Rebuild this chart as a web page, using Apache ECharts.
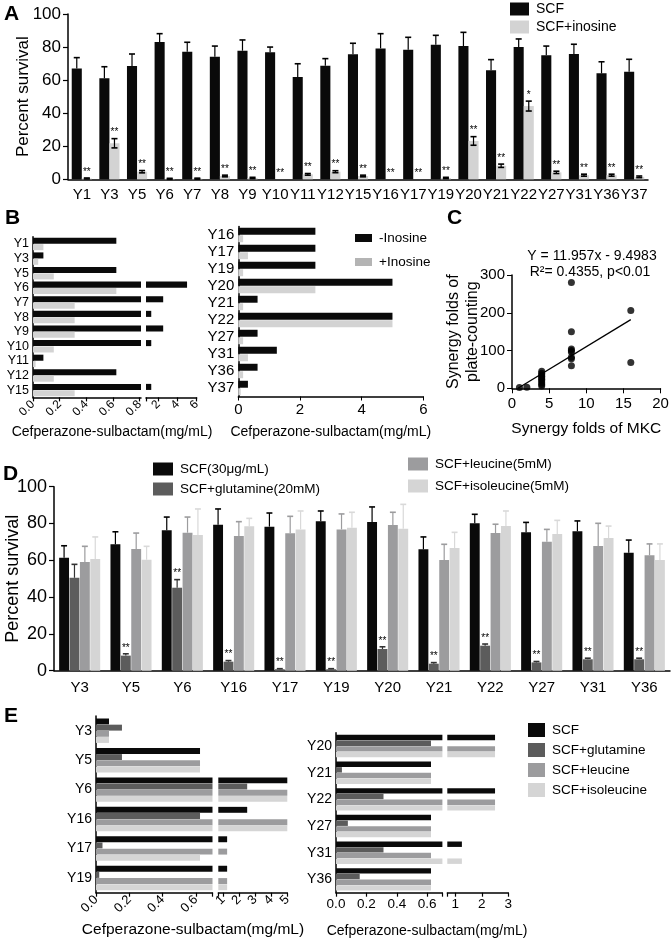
<!DOCTYPE html>
<html><head><meta charset="utf-8">
<script src="https://cdn.jsdelivr.net/npm/echarts@6/dist/echarts.min.js"></script>
<style>html,body{margin:0;padding:0;background:#fff}#c{width:671px;height:944px}</style>
</head><body><div id="c"></div>
<script>
// ---------- Panel A ----------
const catsA = ['Y1','Y3','Y5','Y6','Y7','Y8','Y9','Y10','Y11','Y12','Y15','Y16','Y17','Y19','Y20','Y21','Y22','Y27','Y31','Y36','Y37'];
const scfA = [67.1,61.1,68.5,83.1,77.2,74.2,77.8,76.8,61.9,68.7,75.6,79.2,78.4,81.4,80.6,65.9,80.0,75.0,75.8,64.1,65.1];
const scfErrA = [6.5,7.0,7.3,5.0,5.7,6.4,6.5,3.2,8.0,4.3,6.7,8.9,7.5,5.7,8.3,6.5,4.9,5.6,5.9,7.0,7.5];
const inoA = [0.5,21.8,4.6,0.3,0.4,2.0,0.8,0,3.0,4.6,2.0,0,0,0.8,23.2,8.2,44.3,4.2,2.5,2.5,1.5];
const inoErrA = [0.3,2.8,0.7,0.3,0.3,0.5,0.4,0,0.5,0.6,0.5,0,0,0.4,2.6,1.0,3.0,0.7,0.6,0.6,0.5];
const sigA = ['**','**','**','**','**','**','**','**','**','**','**','**','**','**','**','**','*','**','**','**','**'];

// ---------- Panel B ----------
const catsB1 = ['Y1','Y3','Y5','Y6','Y7','Y8','Y9','Y10','Y11','Y12','Y15'];
const minusInoB1 = [0.625,0.078,0.625,5,2.5,1.25,2.5,1.25,0.078,0.625,1.25];
const plusInoB1 = [0.078,0.039,0.156,0.625,0.3125,0.3125,0.3125,0.156,0.0195,0.156,0.3125];
const catsB2 = ['Y16','Y17','Y19','Y20','Y21','Y22','Y27','Y31','Y36','Y37'];
const minusInoB2 = [2.5,2.5,2.5,5,0.625,5,0.625,1.25,0.625,0.3125];
const plusInoB2 = [0.156,0.3125,0.156,2.5,0.156,5,0.156,0.3125,0.156,0.078];

// ---------- Panel C ----------
const mkcFolds = [1,2,4,4,4,4,4,4,4,4,4,4,8,8,8,8,8,8,8,8,16,16];
const plateFolds = [2,3,45,40,36,32,28,24,20,15,10,6,280,150,104,100,96,82,78,60,206,68];
const fitLine = [[0.8,0],[16,181.8]];

// ---------- Panel D ----------
const catsD = ['Y3','Y5','Y6','Y16','Y17','Y19','Y20','Y21','Y22','Y27','Y31','Y36'];
const scfD = [61.4,68.7,76.3,79.3,78.3,81.2,80.8,66.0,80.1,75.2,75.8,64.1];
const scfErrD = [6.5,6.8,7.2,8.6,7.4,5.6,8.2,6.7,4.9,5.4,5.6,6.9];
const glnD = [50.5,8.2,45.1,4.9,0.8,0.8,11.8,3.8,13.6,4.5,6.2,6.2];
const glnErrD = [7.3,1.0,4.4,0.6,0.3,0.3,1.2,0.6,0.9,0.5,0.6,0.6];
const leuD = [59.1,66.1,75.0,73.2,74.7,76.8,79.2,60.2,74.8,70.1,67.8,62.7];
const leuErrD = [8.5,8.7,8.5,7.8,9.2,8.4,6.9,8.5,4.8,6.7,12.3,6.2];
const ileD = [60.7,60.3,73.7,78.5,76.8,77.7,77.2,66.7,78.6,74.3,72.1,60.2];
const ileErrD = [12.0,7.3,14.2,4.3,10.0,8.4,13.2,8.5,8.2,7.4,6.5,8.7];
const sigD = ['','**','**','**','**','**','**','**','**','**','**','**'];

// ---------- Panel E ----------
const catsE1 = ['Y3','Y5','Y6','Y16','Y17','Y19'];
const scfE1 = [0.078,0.625,5,2.5,1.25,1.25];
const glnE1 = [0.156,0.156,2.5,0.625,0.039,0.0195];
const leuE1 = [0.078,0.625,5,5,1.25,1.25];
const ileE1 = [0.078,0.625,5,5,0.625,1.25];
const catsE2 = ['Y20','Y21','Y22','Y27','Y31','Y36'];
const scfE2 = [2.5,0.625,2.5,0.625,1.25,0.625];
const glnE2 = [0.625,0.039,0.3125,0.078,0.3125,0.156];
const leuE2 = [2.5,0.625,2.5,0.625,0.625,0.625];
const ileE2 = [2.5,0.625,2.5,0.625,1.25,0.625];

// ---------- styling ----------
const FF = "'Liberation Sans', Arial, Helvetica, sans-serif";
const BLACK = '#0a0a0a', GLN = '#5c5c5c', LEU = '#9c9c9e', ILE = '#d5d5d5', INO = '#d3d3d3';
const AX = {lineStyle:{color:'#000', width:1.5}};
const fix1 = v => Number(v).toFixed(1);

function errBars(n, idx, catGap, barGap, color, both, sig) {
  return function (params, api) {
    const c = api.value(0), v = api.value(1), e = api.value(2);
    const band = api.size([1, 0])[0];
    const w = band * (1 - catGap) / (n + (n - 1) * barGap);
    const total = n * w + (n - 1) * barGap * w;
    const cx = api.coord([c, 0])[0] - total / 2 + idx * w * (1 + barGap) + w / 2;
    const yTop = api.coord([c, v + e])[1];
    const yLow = api.coord([c, both ? Math.max(v - e, 0) : v])[1];
    const hc = w * 0.3;
    const ch = [];
    if (e > 0) {
      ch.push({type:'line', shape:{x1:cx, y1:yLow, x2:cx, y2:yTop}, style:{stroke:color, lineWidth:1.2}});
      ch.push({type:'line', shape:{x1:cx-hc, y1:yTop, x2:cx+hc, y2:yTop}, style:{stroke:color, lineWidth:1.6}});
      if (both) ch.push({type:'line', shape:{x1:cx-hc, y1:yLow, x2:cx+hc, y2:yLow}, style:{stroke:color, lineWidth:1.6}});
    }
    if (sig && sig[params.dataIndex]) {
      ch.push({type:'text', style:{x:cx, y:yTop - 1, text:sig[params.dataIndex], align:'center', verticalAlign:'bottom', fontSize:10, fill:'#000', fontFamily:FF}});
    }
    return {type:'group', children:ch};
  };
}
const triples = (vals, errs) => vals.map((v, i) => [i, v, errs[i]]);

function grid(l, t, w, h) { return {left:l, top:t, width:w, height:h, outerBoundsMode:'none', containLabel:false}; }
function catY(g, data, fs, show) {
  return {type:'category', gridIndex:g, data:data, inverse:true, show:show !== false,
    axisLine:AX, axisTick:{show:false}, axisLabel:{interval:0, fontSize:fs, color:'#000', margin:4, fontFamily:FF}};
}
function valX(g, min, max, labels, ticks, rot, fs, fmt) {
  return {type:'value', gridIndex:g, min:min, max:max, splitLine:{show:false},
    axisLine:Object.assign({show:true}, AX), axisTick:{show:true, length:4, customValues:ticks, lineStyle:{color:'#000', width:1.2}},
    axisLabel:{customValues:labels, rotate:rot, fontSize:fs, color:'#000', margin:5, fontFamily:FF, formatter:fmt}};
}

const grids = [
  grid(68, 14, 580, 165.3),        // 0 A
  grid(33, 236.7, 108, 160.7),     // 1 B left seg1
  grid(146, 236.7, 50.6, 160.7),   // 2 B left seg2
  grid(238.3, 226.5, 185, 170),    // 3 B right
  grid(512, 275, 148.5, 113.3),    // 4 C
  grid(54, 486.7, 616, 184),       // 5 D
  grid(96, 716, 116.5, 176.7),     // 6 E left seg1
  grid(218.3, 716, 69, 176.7),     // 7 E left seg2
  grid(336, 732.7, 106.4, 160),    // 8 E right seg1
  grid(447.3, 732.7, 61, 160)      // 9 E right seg2
];

const xAxes = [
  {type:'category', gridIndex:0, data:catsA, axisLine:AX, axisTick:{show:false},
   axisLabel:{interval:0, fontSize:15, color:'#000', margin:8, fontFamily:FF}},
  valX(1, 0, 0.81, [0,0.2,0.4,0.6,0.8], [0,0.2,0.4,0.6,0.8], 45, 12, fix1),
  valX(2, 0.7, 6, [2,4,6], [0.7,2,4,6], 45, 12, v => String(v)),
  {type:'value', gridIndex:3, min:0, max:6, interval:2, splitLine:{show:false},
   axisLine:Object.assign({show:true}, AX), axisTick:{show:true, length:4, lineStyle:{color:'#000'}},
   axisLabel:{fontSize:15, color:'#000', margin:6, fontFamily:FF},
   name:'Cefperazone-sulbactam(mg/mL)', nameLocation:'middle', nameGap:29, nameMoveOverlap:false,
   nameTextStyle:{fontSize:14, color:'#000', fontFamily:FF}},
  {type:'value', gridIndex:4, min:0, max:20, interval:5, splitLine:{show:false},
   axisLine:Object.assign({show:true}, AX), axisTick:{show:true, length:5, lineStyle:{color:'#000'}},
   axisLabel:{fontSize:15, color:'#000', margin:8, fontFamily:FF},
   name:'Synergy folds of MKC', nameLocation:'middle', nameGap:32, nameMoveOverlap:false,
   nameTextStyle:{fontSize:15.5, color:'#000', fontFamily:FF}},
  {type:'category', gridIndex:5, data:catsD, axisLine:AX, axisTick:{show:false},
   axisLabel:{interval:0, fontSize:15, color:'#000', margin:10, fontFamily:FF}},
  valX(6, 0, 0.7, [0,0.2,0.4,0.6], [0,0.2,0.4,0.6,0.7], 45, 13, fix1),
  valX(7, 0.7, 5, [1,2,3,4,5], [0.7,1,2,3,4,5], 45, 13, v => String(v)),
  valX(8, 0, 0.7, [0,0.2,0.4,0.6], [0,0.2,0.4,0.6,0.7], 0, 13.5, fix1),
  valX(9, 0.7, 3, [1,2,3], [0.7,1,2,3], 0, 13.5, v => String(v))
];

const yAxes = [
  {type:'value', gridIndex:0, min:0, max:100, interval:20, splitLine:{show:false},
   axisLine:Object.assign({show:true}, AX), axisTick:{show:true, length:5, lineStyle:{color:'#000', width:1.2}},
   axisLabel:{fontSize:17, color:'#000', margin:7, fontFamily:FF},
   name:'Percent survival', nameLocation:'middle', nameGap:36, nameMoveOverlap:false,
   nameTextStyle:{fontSize:17, color:'#000', fontFamily:FF}},
  catY(1, catsB1, 12.5),
  catY(2, catsB1, 12, false),
  catY(3, catsB2, 15),
  {type:'value', gridIndex:4, min:0, max:300, interval:100, splitLine:{show:false},
   axisLine:Object.assign({show:true}, AX), axisTick:{show:true, length:5, lineStyle:{color:'#000'}},
   axisLabel:{fontSize:15, color:'#000', margin:7, fontFamily:FF},
   name:'Synergy folds of\nplate-counting', nameLocation:'middle', nameGap:30, nameMoveOverlap:false,
   nameTextStyle:{fontSize:16, lineHeight:19, color:'#000', fontFamily:FF}},
  {type:'value', gridIndex:5, min:0, max:100, interval:20, splitLine:{show:false},
   axisLine:Object.assign({show:true}, AX), axisTick:{show:true, length:5, lineStyle:{color:'#000', width:1.2}},
   axisLabel:{fontSize:18, color:'#000', margin:7, fontFamily:FF},
   name:'Percent survival', nameLocation:'middle', nameGap:32, nameMoveOverlap:false,
   nameTextStyle:{fontSize:18, color:'#000', fontFamily:FF}},
  catY(6, catsE1, 14),
  catY(7, catsE1, 14, false),
  catY(8, catsE2, 14),
  catY(9, catsE2, 14, false)
];

function hbar(name, g, data, color, cg, bg) {
  return {type:'bar', name:name, xAxisIndex:g, yAxisIndex:g, data:data, clip:true,
    barCategoryGap:cg, barGap:bg, itemStyle:{color:color}, silent:true};
}
function vbar(name, g, data, color, cg, bg) {
  return {type:'bar', name:name, xAxisIndex:g, yAxisIndex:g, data:data, clip:true,
    barCategoryGap:cg, barGap:bg, itemStyle:{color:color}, silent:true};
}
function errSeries(g, vals, errs, n, idx, cg, bg, color, both, sig) {
  return {type:'custom', name:'err'+g+'_'+idx, xAxisIndex:g, yAxisIndex:g, z:5, silent:true,
    dimensions:['c','v','e'], encode:{x:0, y:1}, data:triples(vals, errs),
    renderItem:errBars(n, idx, cg, bg, color, both, sig)};
}

const series = [
  // A
  vbar('SCF', 0, scfA, BLACK, '27%', '0%'),
  vbar('SCF+inosine', 0, inoA, INO, '27%', '0%'),
  errSeries(0, scfA, scfErrA, 2, 0, 0.27, 0, '#000', false, null),
  errSeries(0, inoA, inoErrA, 2, 1, 0.27, 0, '#000', true, sigA),
  // B
  hbar('-Inosine', 1, minusInoB1, BLACK, '15%', '5%'),
  hbar('+Inosine', 1, plusInoB1, INO, '15%', '5%'),
  hbar('-Inosine', 2, minusInoB1, BLACK, '15%', '5%'),
  hbar('+Inosine', 2, plusInoB1, INO, '15%', '5%'),
  hbar('-Inosine', 3, minusInoB2, BLACK, '15%', '8%'),
  hbar('+Inosine', 3, plusInoB2, INO, '15%', '8%'),
  // C
  {type:'scatter', name:'pts', xAxisIndex:4, yAxisIndex:4, symbolSize:7, itemStyle:{color:'#000'},
   data:mkcFolds.map((x, i) => [x, plateFolds[i]]), silent:true, z:3},
  {type:'line', name:'fit', xAxisIndex:4, yAxisIndex:4, data:fitLine, symbol:'none',
   lineStyle:{color:'#000', width:1.3}, silent:true, z:2},
  // D
  vbar('SCF(30μg/mL)', 5, scfD, BLACK, '20%', '5%'),
  vbar('SCF+glutamine(20mM)', 5, glnD, GLN, '20%', '5%'),
  vbar('SCF+leucine(5mM)', 5, leuD, LEU, '20%', '5%'),
  vbar('SCF+isoleucine(5mM)', 5, ileD, ILE, '20%', '5%'),
  errSeries(5, scfD, scfErrD, 4, 0, 0.2, 0.05, '#000', false, null),
  errSeries(5, glnD, glnErrD, 4, 1, 0.2, 0.05, '#333', false, sigD),
  errSeries(5, leuD, leuErrD, 4, 2, 0.2, 0.05, LEU, false, null),
  errSeries(5, ileD, ileErrD, 4, 3, 0.2, 0.05, '#d9d9d9', false, null)
];
// E
[[6, [scfE1, glnE1, leuE1, ileE1]], [7, [scfE1, glnE1, leuE1, ileE1]],
 [8, [scfE2, glnE2, leuE2, ileE2]], [9, [scfE2, glnE2, leuE2, ileE2]]].forEach(([g, arrs]) => {
  const cg = g < 8 ? '17%' : '16%';
  series.push(hbar('SCF', g, arrs[0], BLACK, cg, '4%'));
  series.push(hbar('SCF+glutamine', g, arrs[1], GLN, cg, '4%'));
  series.push(hbar('SCF+leucine', g, arrs[2], LEU, cg, '4%'));
  series.push(hbar('SCF+isoleucine', g, arrs[3], ILE, cg, '4%'));
});

function legend(names, l, t, iw, ih, gap, fs, colors) {
  return {orient:'vertical', left:l, top:t, itemWidth:iw, itemHeight:ih, itemGap:gap, icon:'rect',
    selectedMode:false, padding:0,
    data:names.map((n, i) => ({name:n, itemStyle:{color:colors[i], borderWidth:0}})),
    textStyle:{fontSize:fs, color:'#000', fontFamily:FF, padding:[0,0,0,2]}};
}
const legends = [
  legend(['SCF','SCF+inosine'], 510, 2, 19, 13, 4, 14, [BLACK, INO]),
  legend(['-Inosine','+Inosine'], 355, 231, 17, 8, 10, 13.5, [BLACK, '#b4b4b4']),
  legend(['SCF(30μg/mL)','SCF+glutamine(20mM)'], 153, 462, 20, 13, 6, 13.5, [BLACK, GLN]),
  legend(['SCF+leucine(5mM)','SCF+isoleucine(5mM)'], 408, 457, 20, 13, 8, 13.5, [LEU, ILE]),
  legend(['SCF','SCF+glutamine','SCF+leucine','SCF+isoleucine'], 528, 723, 17, 14, 6, 13.5, [BLACK, GLN, LEU, ILE])
];

function txt(x, y, s, fs, bold, align) {
  return {type:'text', x:x, y:y, silent:true,
    style:{text:s, fontSize:fs, fontWeight:bold ? 'bold' : 'normal', fontFamily:FF, fill:'#000',
      align:align || 'left', verticalAlign:'top'}};
}
const graphics = [
  txt(4, 4, 'A', 21, true),
  txt(5, 208, 'B', 21, true),
  txt(447, 208, 'C', 21, true),
  txt(3, 464, 'D', 21, true),
  txt(4, 706, 'E', 21, true),
  txt(592, 249, 'Y = 11.957x - 9.4983', 14, false, 'center'),
  txt(590, 265, 'R²= 0.4355, p<0.01', 14, false, 'center'),
  txt(112, 425, 'Cefperazone-sulbactam(mg/mL)', 14, false, 'center'),
  txt(193, 922, 'Cefperazone-sulbactam(mg/mL)', 15.5, false, 'center'),
  txt(427, 924, 'Cefperazone-sulbactam(mg/mL)', 14, false, 'center')
];

const chart = echarts.init(document.getElementById('c'), null, {renderer:'canvas'});
chart.setOption({
  animation:false,
  backgroundColor:'#fff',
  textStyle:{fontFamily:FF, color:'#000'},
  grid:grids, xAxis:xAxes, yAxis:yAxes, series:series, legend:legends,
  graphic:{elements:graphics}
});
</script>
</body></html>
